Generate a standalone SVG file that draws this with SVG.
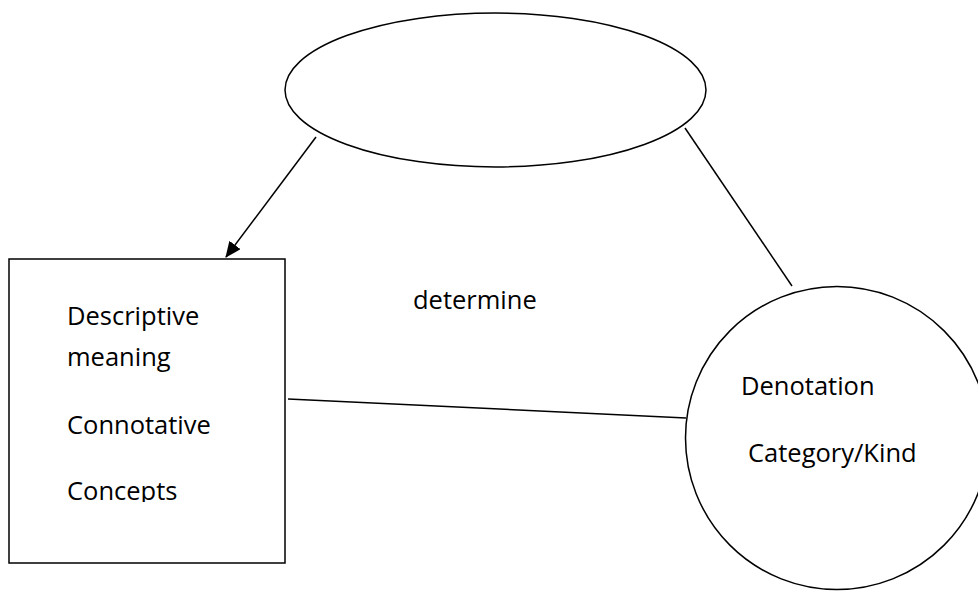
<svg xmlns="http://www.w3.org/2000/svg" width="978" height="591" viewBox="0 0 978 591">
<style>
.s{fill:#fff;stroke:#000;stroke-width:1.5}
.c{stroke:#000;stroke-width:1.5;fill:none}
text{font-family:"Open Sans","Lato",sans-serif;font-size:25.5px;fill:#000;font-variant-ligatures:none}
</style>
<defs>
<marker id="ah" viewBox="0 0 16 14" refX="15" refY="7" markerWidth="16" markerHeight="14" orient="auto" markerUnits="userSpaceOnUse">
<path d="M0,0 L16,7 L0,14 z" fill="#000"/>
</marker>
<clipPath id="clipBox"><rect x="0" y="250" width="290" height="252"/></clipPath>
</defs>
<rect width="978" height="591" fill="#fff"/>
<g id="connectors">
<line class="c" x1="316" y1="137" x2="226" y2="257" stroke-width="2.4" marker-end="url(#ah)"/>
<line class="c" x1="685" y1="128" x2="792" y2="286"/>
<line class="c" x1="288" y1="399" x2="686" y2="418"/>
</g>
<g id="top-ellipse">
<ellipse class="s" cx="495.5" cy="90" rx="210.5" ry="77"/>
</g>
<g id="concept-box">
<rect class="s" x="9" y="259" width="276" height="304"/>
<g clip-path="url(#clipBox)">
<text x="67" y="325">Descriptive</text>
<text x="67" y="366">meaning</text>
<text x="67" y="434">Connotative</text>
<text x="67" y="500">Concepts</text>
</g>
</g>
<g id="label-determine">
<text x="413" y="309">determine</text>
</g>
<g id="denotation-circle">
<circle class="s" cx="837" cy="438" r="151.5"/>
<text x="741" y="395">Denotation</text>
<text x="748" y="462">Category/Kind</text>
</g>
</svg>
